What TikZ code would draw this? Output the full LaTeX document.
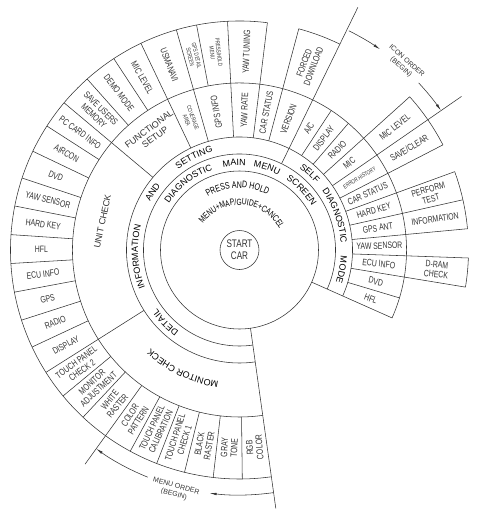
\documentclass[tikz,border=0pt]{standalone}
\usepackage{fontspec}
\setmainfont{Liberation Sans}[FakeStretch=0.74]
\newfontfamily\ringfont{Liberation Sans}
\usepackage{tikz}
\usetikzlibrary{arrows.meta, decorations.text}

% ring radii
\def\rA{79pt}
\def\rB{96pt}
\def\rC{113pt}
\def\rD{167pt}
\def\rE{229pt}
\newcommand{\hfont}{\ringfont\fontsize{9}{10}\selectfont}

% word bent round a ring, tops facing out
\newcommand{\ringword}[4]{%
  \path[decorate, decoration={text along path, text align=center, text={|#1|#4}}]
    ({#3+60}:#2) arc[start angle=#3+60, end angle=#3-60, radius=#2];}

\begin{document}
\begin{tikzpicture}[
    x=1pt, y=1pt,
    line width=0.55pt, color=black!80,
    item/.style={font=\fontsize{9.3}{9.8}\selectfont, align=center, inner sep=0pt},
    small/.style={font=\fontsize{6}{6.6}\selectfont, align=center, inner sep=0pt},
    head/.style={font=\hfont, align=center, inner sep=0pt},
    note/.style={font=\ringfont\fontsize{7}{8.5}\selectfont, align=center, inner sep=0pt},
    order/.style={-{Latex[length=7pt, width=2.6pt]}}
  ]
  \useasboundingbox (-239.5,-270) rectangle (250.5,250);

  % Centre
  \node[circle, draw, minimum size=39pt, inner sep=0pt, align=center,
        font=\fontsize{11}{12}\selectfont] (start) at (0,0) {START\\CAR};
  \draw (0,0) circle[radius=\rA];
  \ringword{\fontsize{9.5}{10}\selectfont}{62pt}{92}{PRESS AND HOLD}
  \ringword{\fontsize{9}{9.5}\selectfont}{45pt}{86}{MENU+MAP/GUIDE+CANCEL}

  % Rings
  \foreach \r in {\rB,\rC,\rD}
    \draw (-24:\r) arc[start angle=-24, end angle=278, radius=\r];
  \draw (83:\rE) arc[start angle=83, end angle=278, radius=\rE];
  \draw (64:\rE) arc[start angle=64, end angle=75, radius=\rE];
  \draw (27.33:\rE) arc[start angle=27.33, end angle=42, radius=\rE];
  \draw (5.33:\rE) arc[start angle=5.33, end angle=20, radius=\rE];
  \draw (-9.33:\rE) arc[start angle=-9.33, end angle=-2, radius=\rE];

  % Dividers
  \draw (-24:\rA) -- (-24:\rD);
  \draw (278:\rA) -- (278:261pt);
  \draw (64:\rB) -- (64:270pt);
  \draw (34.67:\rC) -- (34.67:270pt);
  \draw (234.2:\rD) -- (234.2:264pt);
  \foreach \a in {212.3,140,115.5,106,93,83,75,42,27.33,20,12.67,5.33,-2,-9.33}
    \draw (\a:\rC) -- (\a:\rE);
  \foreach \a in {56.67,49.33,-16.67}
    \draw (\a:\rC) -- (\a:\rD);
  \foreach \i in {1,...,9}
    \draw ({140+7.23*\i}:\rD) -- ({140+7.23*\i}:\rE);
  \foreach \a in {219.6,226.9,241.5,248.8,256.1,263.4,270.7,131.7,123.3,100.8}
    \draw (\a:\rD) -- (\a:\rE);

  % Ring words
  \ringword{\hfont}{84.5pt}{127.5}{DIAGNOSTIC}
  \ringword{\hfont}{84.5pt}{93.5}{MAIN}
  \ringword{\hfont}{84.5pt}{71.5}{MENU}
  \ringword{\hfont}{84.5pt}{43.8}{SCREEN}
  \ringword{\hfont}{101.5pt}{183.8}{INFORMATION}
  \ringword{\hfont}{101.5pt}{146.3}{AND}
  \ringword{\hfont}{101.5pt}{116.1}{SETTING}
  \ringword{\hfont}{101.5pt}{47.5}{SELF}
  \ringword{\hfont}{101.5pt}{19.8}{DIAGNOSTIC}
  \ringword{\hfont}{101.5pt}{-10.9}{MODE}
  \ringword{\hfont}{101.5pt}{-135.6}{DETAIL}
  \ringword{\hfont}{133pt}{-115.5}{MONITOR CHECK}
  \node[head, rotate=78] (unit) at (168.2:140pt) {UNIT CHECK};
  \node[head, rotate=36.8] (func) at (126.8:146pt) {FUNCTIONAL\\SETUP};

  % Unit check items
  \foreach \t [count=\i from 0] in {PC CARD INFO, AIRCON, DVD, YAW SENSOR, HARD KEY,
      HFL, ECU INFO, GPS, RADIO, DISPLAY}
    \node[item, rotate={140+7.23*(\i+0.5)-180}] (unit\i) at ({140+7.23*(\i+0.5)}:198pt) {\t};

  % Monitor check items
  \foreach \t [count=\i from 0] in {TOUCH PANEL\\CHECK 2, MONITOR\\ADJUSTMENT, WHITE\\RASTER,
      COLOR\\PATTERN, TOUCH PANEL\\CALIBRATION, TOUCH PANEL\\CHECK 1, BLACK\\RASTER,
      GRAY\\TONE, RGB\\COLOR}
    \node[item, rotate={212.3+7.3*(\i+0.5)-180}] (mon\i) at ({212.3+7.3*(\i+0.5)}:198pt) {\t};

  % Functional setup items
  \node[item, rotate=-44.15] (fun1) at (135.85:198pt) {SAVE USERS\\MEMORY};
  \node[item, rotate=-52.5] (fun2) at (127.5:198pt) {DEMO MODE};
  \node[item, rotate=-60.6] (fun3) at (119.4:198pt) {MIC LEVEL};
  \node[item, rotate=-69.25] (fun4) at (110.75:198pt) {USMANAVI};
  \node[small, rotate=-76.6] (fun5) at (103.4:199pt) {GPS DETAIL\\SCREEN};
  \node[small, rotate=-83.1] (fun6) at (96.9:199pt) {PRESS/HOLD\\MENU};
  \node[item, rotate=88] (yawt) at (88:198pt) {YAW TUNING};
  \node[item, rotate=69.5] (forced) at (69.5:198pt) {FORCED\\DOWNLOAD};

  % Top of ring four
  \node[small, rotate=-69.25] (cover) at (110.75:140pt) {COVERAGE\\AREA};
  \node[item, rotate=99.5] (gpsinfo) at (99.5:140pt) {GPS INFO};
  \node[item, rotate=88] (yawr) at (88:140pt) {YAW RATE};
  \node[item, rotate=79] (carst) at (79:140pt) {CAR STATUS};
  \node[item, rotate=69.5] (version) at (69.5:140pt) {VERSION};

  % Self diagnostic items
  \foreach \t [count=\i from 0] in {A/C, DISPLAY, RADIO, MIC}
    \node[item, rotate={64-7.33*(\i+0.5)}] (sdm\i) at ({64-7.33*(\i+0.5)}:140pt) {\t};
  \node[small, rotate=31] (sdm4) at (31:140pt) {ERROR HISTORY};
  \foreach \t [count=\i from 5] in {CAR STATUS, HARD KEY, GPS ANT, YAW SENSOR, ECU INFO, DVD, HFL}
    \node[item, rotate={64-7.33*(\i+0.5)}] (sdm\i) at ({64-7.33*(\i+0.5)}:140pt) {\t};
  \node[item, rotate=38.33] (miclev) at (38.33:198pt) {MIC LEVEL};
  \node[item, rotate=31] (save) at (31:198pt) {SAVE/CLEAR};
  \node[item, rotate=16.33] (perform) at (16.33:198pt) {PERFORM\\TEST};
  \node[item, rotate=9] (info) at (9:198pt) {INFORMATION};
  \node[item, rotate=-5.67] (dram) at (-5.67:198pt) {D-RAM\\CHECK};

  % Order arrows
  \coordinate (iconA) at (63.5:245pt);
  \coordinate (iconB) at (43:245pt);
  \draw[order] (iconA) arc[start angle=63.5, end angle=55, radius=245pt];
  \draw[order] (iconB) arc[start angle=43, end angle=34.67, radius=245pt];
  \node[note, rotate=-42] (icon) at (48.5:248pt) {ICON ORDER\\(BEGIN)};
  \coordinate (menuA) at (-82:245pt);
  \coordinate (menuB) at (-112:245pt);
  \draw[order] (menuA) arc[start angle=-82, end angle=-97, radius=245pt];
  \draw[order] (menuB) arc[start angle=-112, end angle=-125.8, radius=245pt];
  \node[note, rotate=-15.5] (menu) at (-105:249pt) {MENU ORDER\\(BEGIN)};
\end{tikzpicture}
\end{document}
